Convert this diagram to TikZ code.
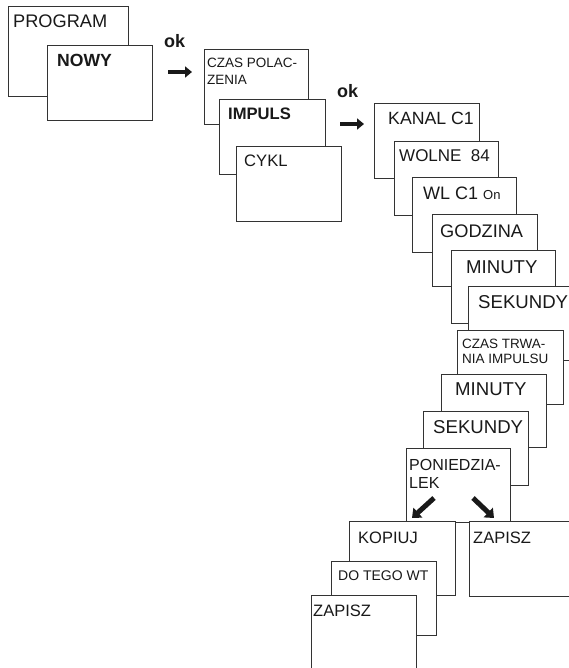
\documentclass[tikz,border=0pt]{standalone}
\usepackage{fontspec}
\setmainfont{Liberation Sans}
\usetikzlibrary{arrows.meta}
\tikzset{
  box/.style={draw=black!80, line width=0.8pt, fill=white, inner sep=0pt, anchor=north west},
  txt/.style={anchor=base west, inner sep=0pt, text=black!90},
  fat/.style={line width=4pt, black!90, -{Triangle[length=7pt,width=11pt]}},
  fatd/.style={line width=5pt, black!90, -{Triangle[length=8pt,width=13pt]}},
}
\newcommand{\fs}[1]{\fontsize{#1}{#1}\selectfont}
\begin{document}
\begin{tikzpicture}[x=1pt,y=-1pt]
\useasboundingbox (0,0) rectangle (569,668);
\clip (0,0) rectangle (569,668);
% column 1
\node[box, minimum width=120pt, minimum height=90pt] (b1) at (8,6) {};
\node[txt, font=\fs{18.2}] (t1) at (13,28) {PROGRAM};
\node[box, minimum width=105pt, minimum height=75pt] (b2) at (47,45) {};
\node[txt, font=\fs{17.6}\bfseries] (t2) at (57,67) {NOWY};
\node[txt, font=\fs{18}\bfseries] (ok1) at (164,48) {ok};
\coordinate (a1s) at (168,72); \coordinate (a1e) at (192,72);
\draw[fat] (a1s) -- (a1e);
% column 2
\node[box, minimum width=104pt, minimum height=75pt] (b3) at (204,49) {};
\node[txt, font=\fs{13.5}] (t3a) at (207,68) {CZAS POLAC-};
\node[txt, font=\fs{13.5}] (t3b) at (207,85) {ZENIA};
\node[box, minimum width=106pt, minimum height=75pt] (b4) at (219,99) {};
\node[txt, font=\fs{16.6}\bfseries] (t4) at (228,120) {IMPULS};
\node[box, minimum width=105pt, minimum height=75pt] (b5) at (236,146) {};
\node[txt, font=\fs{16.6}] (t5) at (244,167) {CYKL};
\node[txt, font=\fs{18}\bfseries] (ok2) at (337,98) {ok};
\coordinate (a2s) at (340,124); \coordinate (a2e) at (364,124);
\draw[fat] (a2s) -- (a2e);
% cascade
\node[box, minimum width=105pt, minimum height=75pt] (b6) at (374,103) {};
\node[txt, font=\fs{17.7}] (t6) at (388,125) {KANAL C1};
\node[box, minimum width=104pt, minimum height=74pt] (b7) at (394,141) {};
\node[txt, font=\fs{17}] (t7) at (399,162) {WOLNE \ 84};
\node[box, minimum width=104pt, minimum height=75pt] (b8) at (412,177) {};
\node[txt, font=\fs{18}] (t8) at (423,200) {WL C1 {\fs{13}On}};
\node[box, minimum width=105pt, minimum height=72pt] (b9) at (432,214) {};
\node[txt, font=\fs{18.2}] (t9) at (440,237) {GODZINA};
\node[box, minimum width=104pt, minimum height=73pt] (b10) at (451,250) {};
\node[txt, font=\fs{18.6}] (t10) at (466,273) {MINUTY};
\node[box, minimum width=120pt, minimum height=74pt] (b11) at (468,286) {};
\node[txt, font=\fs{18.6}] (t11) at (478,308) {SEKUNDY};
\node[box, minimum width=106pt, minimum height=74pt] (b12) at (457,330) {};
\node[txt, font=\fs{13.5}] (t12a) at (462,348) {CZAS TRWA-};
\node[txt, font=\fs{13.5}] (t12b) at (462,363) {NIA IMPULSU};
\node[box, minimum width=105pt, minimum height=73pt] (b13) at (441,374) {};
\node[txt, font=\fs{18.6}] (t13) at (455,395) {MINUTY};
\node[box, minimum width=105pt, minimum height=74pt] (b14) at (423,411) {};
\node[txt, font=\fs{18.6}] (t14) at (433,433) {SEKUNDY};
\node[box, minimum width=104pt, minimum height=74pt] (b15) at (406,448) {};
\node[txt, font=\fs{16}] (t15a) at (409,470) {PONIEDZIA-};
\node[txt, font=\fs{16}] (t15b) at (409,488) {LEK};
\coordinate (a3s) at (434,498); \coordinate (a3e) at (412,518);
\coordinate (a4s) at (473,498); \coordinate (a4e) at (494,518);
\draw[fatd] (a3s) -- (a3e);
\draw[fatd] (a4s) -- (a4e);
\node[box, minimum width=106pt, minimum height=74pt] (b16) at (349,521) {};
\node[txt, font=\fs{16.5}] (t16) at (358,543) {KOPIUJ};
\node[box, minimum width=120pt, minimum height=75pt] (b17) at (469,521) {};
\node[txt, font=\fs{16.5}] (t17) at (473,543) {ZAPISZ};
\node[box, minimum width=105pt, minimum height=74pt] (b18) at (331,561) {};
\node[txt, font=\fs{14}] (t18) at (338,580) {DO TEGO WT};
\node[box, minimum width=105pt, minimum height=100pt] (b19) at (311,595) {};
\node[txt, font=\fs{16.5}] (t19) at (313,616) {ZAPISZ};
\end{tikzpicture}
\end{document}
